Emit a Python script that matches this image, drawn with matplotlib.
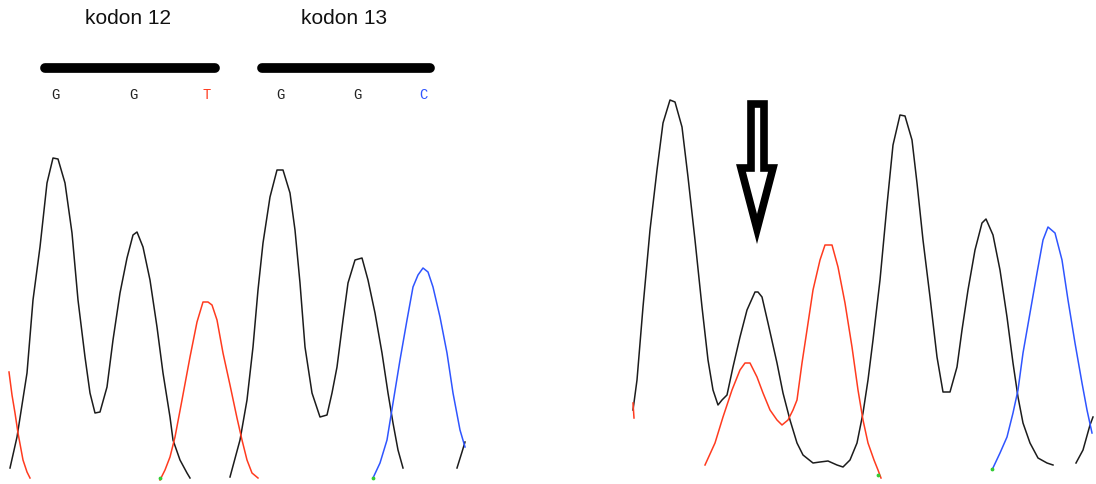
import numpy as np
import matplotlib.pyplot as plt
from matplotlib.patches import Polygon

nan = np.nan

# chromatogram traces: scan position, signal (pixel rows from top, 480 = baseline)
left_black_x = [10, 17, 27, 33, 40, 47, 53, 58, 65, 72, 78, 85, 90, 95, 100, 107, 113, 120, 127, 133, 137, 143,
                150, 157, 163, 170, 173, 180, 187, 190, nan,
                230, 240, 247, 253, 258, 263, 270, 277, 283, 290, 295, 300, 305, 312, 320, 327, 332, 337, 343,
                348, 355, 362, 368, 375, 382, 388, 393, 398, 403, nan,
                457, 462, 465]
left_black_y = [468, 437, 373, 300, 247, 183, 158, 159, 183, 233, 300, 357, 393, 413, 412, 387, 340, 293, 258, 235, 232, 247,
                280, 327, 373, 417, 440, 460, 473, 478, nan,
                477, 440, 400, 347, 290, 243, 197, 170, 170, 193, 230, 283, 347, 393, 417, 415, 393, 367, 320,
                283, 260, 258, 280, 313, 353, 393, 423, 450, 468, nan,
                468, 452, 442]

left_red_x = [9, 12, 15, 18, 23, 27, 30, nan,
              160, 165, 170, 175, 182, 190, 197, 203, 208, 212, 217, 223, 230, 237, 242, 247, 252, 258]
left_red_y = [372, 395, 413, 433, 460, 472, 478, nan,
              480, 470, 457, 437, 400, 357, 322, 302, 302, 305, 320, 353, 385, 418, 440, 460, 473, 478]

left_blue_x = [373, 380, 387, 393, 400, 407, 413, 418, 423, 428, 433, 440, 447, 453, 460, 465]
left_blue_y = [478, 463, 440, 403, 360, 320, 287, 275, 268, 272, 287, 317, 353, 393, 430, 447]

right_black_x = [633, 637, 643, 650, 657, 663, 670, 675, 682, 688, 695, 702, 708, 713, 718, 722, 727, 733, 740, 747,
                 755, 758, 762, 768, 777, 783, 790, 797, 803, 813, 820, 828, 837, 843, 850, 857, 863, 868, 873, 880,
                 887, 893, 900, 905, 912, 917, 923, 930, 937, 943, 950, 957, 962, 968, 975, 982, 986, 993, 1000,
                 1007, 1013, 1018, 1023, 1030, 1038, 1047, 1053, nan,
                 1076, 1083, 1090, 1093]
right_black_y = [410, 380, 307, 230, 170, 123, 100, 102, 127, 177, 240, 307, 360, 390, 405, 400, 395, 367, 337, 310,
                 292, 292, 297, 323, 363, 393, 420, 443, 455, 463, 462, 461, 465, 467, 460, 443, 413, 380, 340, 280,
                 205, 145, 115, 116, 140, 183, 240, 297, 357, 392, 392, 367, 330, 290, 250, 223, 219, 235, 270,
                 317, 363, 397, 423, 443, 458, 463, 465, nan,
                 463, 450, 425, 417]

right_red_x = [633, 634, nan,
               705, 715, 723, 732, 740, 745, 750, 757, 763, 770, 777, 782, 788, 793, 797, 802, 807, 813, 820,
               825, 832, 838, 845, 852, 858, 863, 868, 874, 878, 881]
right_red_y = [403, 418, nan,
               465, 443, 417, 390, 370, 363, 363, 377, 393, 410, 420, 425, 420, 410, 400, 363, 330, 290, 260,
               245, 245, 267, 303, 347, 390, 420, 443, 460, 470, 478]

right_blue_x = [992, 1000, 1007, 1013, 1018, 1023, 1030, 1037, 1043, 1048, 1055, 1062, 1068, 1075, 1082, 1087, 1092]
right_blue_y = [470, 453, 437, 413, 390, 353, 313, 273, 240, 227, 233, 260, 300, 343, 383, 410, 433]

# faint green baseline specks
green_x = [160, 373, 878, 992]
green_y = [478, 478, 475, 469]

codon_labels = ["kodon 12", "kodon 13"]
codon_spans = [(45, 215), (262, 430)]
base_calls = ["G", "G", "T", "G", "G", "C"]
base_pos = [55, 133, 207, 280, 357, 423]
base_colors = ["#222222", "#222222", "#ff3b1f", "#222222", "#222222", "#2f55ff"]

BLACK = "#1c1c1c"
RED = "#ff3b1f"
BLUE = "#2f55ff"

fig = plt.figure(figsize=(10.96, 4.84), dpi=100)
ax = fig.add_axes([0, 0, 1, 1])
ax.set_xlim(0, 1096)
ax.set_ylim(484, 0)
ax.axis("off")

for xs, ys, c in [(left_black_x, left_black_y, BLACK), (left_red_x, left_red_y, RED),
                  (left_blue_x, left_blue_y, BLUE), (right_black_x, right_black_y, BLACK),
                  (right_red_x, right_red_y, RED), (right_blue_x, right_blue_y, BLUE)]:
    ax.plot(xs, ys, color=c, lw=1.1, solid_joinstyle="round")

ax.scatter(green_x, green_y, s=3, color="#33cc33", zorder=3)

# codon bars and labels
for lab, (x0, x1) in zip(codon_labels, codon_spans):
    ax.plot([x0, x1], [68, 68], color="black", lw=7, solid_capstyle="round")
    ax.text((x0 + x1) / 2 - 2, 19, lab, ha="center", va="center", fontsize=15,
            family=["Liberation Sans", "DejaVu Sans"], color="#111111")

for b, x, c in zip(base_calls, base_pos, base_colors):
    ax.text(x, 95, b, ha="center", va="center", fontsize=10,
            family=["Liberation Mono", "DejaVu Sans Mono"], color=c)

# hollow arrow pointing at the mutant peak
arrow = Polygon([(751, 104), (764, 104), (764, 168), (773, 168), (757, 229), (741, 168), (751, 168)],
                closed=True, fill=False, edgecolor="black", lw=5.5, joinstyle="miter")
ax.add_patch(arrow)

fig.savefig("out.png", dpi=100)
